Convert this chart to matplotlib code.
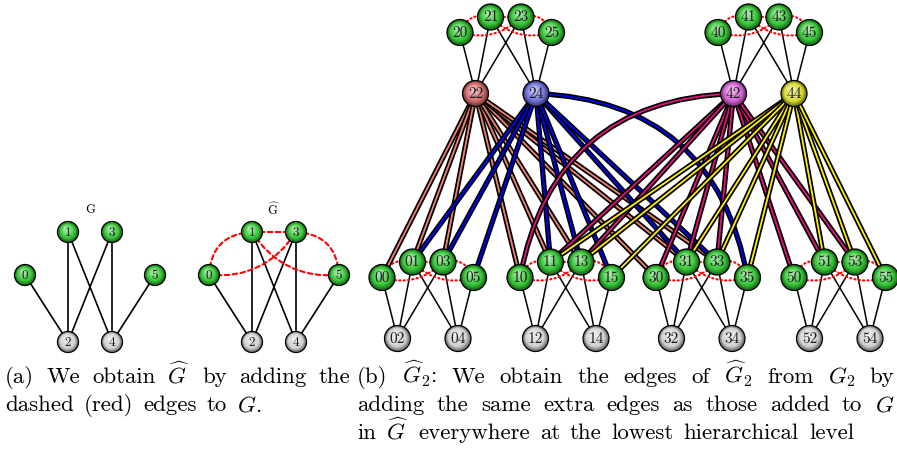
import numpy as np
import matplotlib
matplotlib.use("Agg")
import matplotlib.pyplot as plt
from matplotlib.patches import Circle, FancyArrowPatch
from matplotlib.colors import to_rgb

plt.rcParams['font.family'] = 'cmr10'
plt.rcParams['mathtext.fontset'] = 'cm'
plt.rcParams['axes.unicode_minus'] = False

# base graph G
green_nodes = [0, 1, 3, 5]
grey_nodes = [2, 4]
base_edges = [(0, 2), (1, 2), (1, 4), (3, 2), (3, 4), (5, 4)]
# edges added to get G-hat
extra_edges = [(0, 1), (0, 3), (1, 3), (1, 5), (3, 5)]

# captions
caption_a = [r"(a) We obtain $\widehat{G}$ by adding the",
             r"dashed (red) edges to $G$."]
caption_b = [r"(b) $\widehat{G}_2$: We obtain the edges of $\widehat{G}_2$ from $G_2$ by",
             r"adding the same extra edges as those added to $G$",
             r"in $\widehat{G}$ everywhere at the lowest hierarchical level"]

# layout (pixels, y down)
small_pos = {0: (0, 43), 1: (43, 0), 3: (87, 0), 5: (130, 43), 2: (43, 110), 4: (87, 110)}
block_pos = {0: (0, 15.5), 1: (30.5, 0), 3: (61, 0), 5: (91.5, 15.5), 2: (15.5, 76.5), 4: (76, 76.5)}
block_origin = {2: (460, 17), 4: (718, 17), 0: (382, 262), 1: (520, 262), 3: (656, 262), 5: (794, 262)}
extra_rad = {(0, 1): -0.45, (0, 3): 0.3, (1, 3): 0.0, (1, 5): 0.3, (3, 5): -0.45}

hub_ball = {(2, 2): '#d46a6a', (2, 4): '#7070dc', (4, 2): '#d460d4', (4, 4): '#dada30'}
hub_tube = {(2, 2): '#f08070', (2, 4): '#0000ff', (4, 2): '#e0147a', (4, 4): '#ffee00'}
curved = {((2, 4), (3, 5)): -0.4, ((4, 2), (1, 0)): 0.4}
GREEN = '#33c433'
GREY = '#d2d2d2'

nbr = {v: [] for v in green_nodes + grey_nodes}
for u, v in base_edges:
    nbr[u].append(v)
    nbr[v].append(u)

fig = plt.figure(figsize=(8.97, 4.55), dpi=100)
ax = fig.add_axes([0, 0, 1, 1])
ax.set_xlim(0, 897)
ax.set_ylim(455, 0)
ax.axis('off')


def ball(x, y, r, color, label, fs):
    c = np.array(to_rgb(color))
    dark = c * 0.55
    light = c + (1 - c) * 0.55
    ax.add_patch(Circle((x, y), r, fc=dark, ec='black', lw=0.9, zorder=5))
    n = 16
    for i in range(1, n + 1):
        t = i / n
        if t < 0.3:
            col = dark + (c - dark) * (t / 0.3)
        else:
            col = c + (light - c) * ((t - 0.3) / 0.7)
        rr = r * (1 - 0.8 * t) * 0.95
        ax.add_patch(Circle((x - 0.15 * r * t, y - 0.3 * r * t), rr,
                            fc=col, ec='none', zorder=5))
    ax.text(x, y + 0.5, label, ha='center', va='center', fontsize=fs, zorder=6,
            color='#1a1a1a')


def curve(p, q, rad, **kw):
    ax.add_patch(FancyArrowPatch(p, q, arrowstyle='-', shrinkA=0, shrinkB=0,
                                 connectionstyle=f'arc3,rad={rad}', **kw))


# (a) G and G-hat
for ox, title, dashed in [(25, r"G", False), (209, r"$\widehat{\mathrm{G}}$", True)]:
    pos = {k: (ox + v[0], 232 + v[1]) for k, v in small_pos.items()}
    for u, v in base_edges:
        ax.plot([pos[u][0], pos[v][0]], [pos[u][1], pos[v][1]], color='black',
                lw=1.2, zorder=2)
    if dashed:
        for u, v in extra_edges:
            curve(pos[u], pos[v], extra_rad[(u, v)], color='red', lw=1.5,
                  linestyle=(0, (2.2, 1.6)), zorder=3)
    for k in green_nodes:
        ball(*pos[k], 10.5, GREEN, str(k), 9.5)
    for k in grey_nodes:
        ball(*pos[k], 10.5, GREY, str(k), 9.5)
    ax.text(ox + 65, 210, title, ha='center', va='center', fontsize=9)

# (b) G-hat_2
P = {}
for a, (bx, by) in block_origin.items():
    for b, (lx, ly) in block_pos.items():
        P[(a, b)] = (bx + lx, by + ly)

for a in block_origin:
    for u, v in base_edges:
        p, q = P[(a, u)], P[(a, v)]
        ax.plot([p[0], q[0]], [p[1], q[1]], color='black', lw=1.1, zorder=2)
    for u, v in extra_edges:
        curve(P[(a, u)], P[(a, v)], extra_rad[(u, v)], color='red', lw=1.5,
              linestyle=(0, (0.6, 1.5)), zorder=3)

z = 3.5
for a in grey_nodes:
    for b in grey_nodes:
        for c in nbr[a]:
            for d in nbr[b]:
                rad = curved.get(((a, b), (c, d)), 0.0)
                curve(P[(a, b)], P[(c, d)], rad, color='black', lw=3.8, zorder=z,
                      capstyle='butt')
                curve(P[(a, b)], P[(c, d)], rad, color=hub_tube[(a, b)], lw=1.3,
                      zorder=z + 0.001, capstyle='butt')
                z += 0.002

for (a, b), (x, y) in P.items():
    if (a, b) in hub_ball:
        col = hub_ball[(a, b)]
    elif b in grey_nodes:
        col = GREY
    else:
        col = GREEN
    ball(x, y, 13, col, f"{a}{b}", 11)

# captions, justified like the LaTeX original
fig.canvas.draw()
renderer = fig.canvas.get_renderer()


def caption(lines, x0, x1, y0, fs=16.5):
    for i, line in enumerate(lines):
        y = y0 + i * 28
        words = line.split(' ')
        texts = [ax.text(0, y, w, fontsize=fs, va='baseline') for w in words]
        widths = [t.get_window_extent(renderer).width for t in texts]
        if i == len(lines) - 1:
            gap = fs * 0.6
        else:
            gap = (x1 - x0 - sum(widths)) / (len(words) - 1)
        x = x0
        for t, w in zip(texts, widths):
            t.set_x(x)
            x += w + gap


caption(caption_a, 5, 350, 383)
caption(caption_b, 357, 894, 383)

fig.savefig('out.png', dpi=100)
